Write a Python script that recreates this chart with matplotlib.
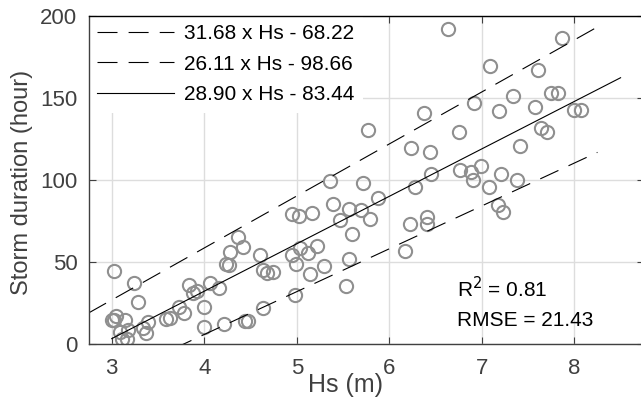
import numpy as np
import matplotlib
matplotlib.use("Agg")
import matplotlib.pyplot as plt

plt.rcParams['font.family'] = ['Liberation Sans', 'DejaVu Sans']

# datos: altura de ola Hs (m) y duracion de tormenta (h)
hs = [3.02, 3.24, 3.28, 3.02, 3.05, 3.00, 3.14, 3.18, 3.09, 3.11, 3.16, 3.34,
      3.37, 3.39, 3.59, 3.63, 3.73, 3.78, 3.83, 3.88, 3.92, 4.00, 4.00, 4.06,
      4.16, 4.21, 4.24, 4.27, 4.28, 4.36, 4.42, 4.60, 4.64, 4.68, 4.74, 4.64,
      4.44, 4.47, 4.98, 4.99, 5.04, 4.95, 5.14, 4.95, 5.02, 5.16, 5.12, 5.22,
      5.29, 5.39, 5.47, 5.56, 5.69, 5.60, 5.56, 5.53, 5.36, 5.72, 5.79, 5.88,
      5.77, 6.17, 6.22, 6.41, 6.41, 6.28, 6.45, 6.23, 6.44, 6.38, 6.63, 6.75,
      6.92, 6.76, 6.88, 6.99, 6.90, 7.08, 7.09, 7.19, 7.21, 7.18, 7.23, 7.34,
      7.38, 7.41, 7.58, 7.61, 7.64, 7.71, 7.75, 7.82, 7.87, 8.00, 8.07]
dur = [44.7, 37.2, 25.4, 14.9, 16.8, 14.6, 14.6, 8.5, 7.5, 3.0, 2.9, 9.6,
       6.5, 13.1, 15.0, 15.7, 22.7, 18.7, 35.9, 30.9, 32.3, 22.4, 10.2, 37.3,
       33.9, 12.2, 48.7, 48.1, 56.2, 65.4, 59.3, 54.2, 45.1, 43.1, 43.7, 21.7,
       14.3, 14.3, 29.9, 48.7, 58.3, 54.2, 42.6, 79.2, 78.0, 79.6, 55.3, 60.0,
       47.5, 85.3, 75.5, 82.1, 81.6, 66.8, 51.8, 35.3, 99.3, 98.1, 76.0, 88.9,
       130.5, 56.7, 73.4, 77.4, 72.8, 95.8, 103.7, 119.4, 116.8, 141.0, 192.1, 129.0,
       147.1, 105.8, 105.0, 108.6, 99.9, 95.6, 169.1, 141.8, 103.6, 84.7, 80.6, 151.1,
       99.7, 120.4, 144.2, 167.2, 131.4, 129.3, 152.7, 152.7, 186.6, 142.7, 142.7]

# rectas de ajuste: pendiente, ordenada
sup = (31.68, -68.22)
inf = (26.11, -98.66)
aju = (28.90, -83.44)
x_banda = np.array([2.75, 8.25])
x_ajuste = np.array([3.0, 8.5])

r2 = 0.81
rmse = 21.43

gris = '#404040'

fig = plt.figure(figsize=(6.41, 3.98), dpi=100)
ax = fig.add_axes([88.6/641, 1-344/398, 555.1/641, 328.3/398])

ax.plot(hs, dur, 'o', mfc='none', mec='#8f8f8f', ms=9.5, mew=1.5, zorder=2)

l1, = ax.plot(x_banda, sup[0]*x_banda + sup[1], color='k', lw=0.8,
              linestyle=(0, (18, 10)), zorder=3)
l2, = ax.plot(x_banda, inf[0]*x_banda + inf[1], color='k', lw=0.8,
              linestyle=(0, (18, 10)), zorder=3)
l3, = ax.plot(x_ajuste, aju[0]*x_ajuste + aju[1], color='k', lw=0.8, zorder=3)

etiquetas = ['%.2f x Hs - %.2f' % (sup[0], -sup[1]),
             '%.2f x Hs - %.2f' % (inf[0], -inf[1]),
             '%.2f x Hs - %.2f' % (aju[0], -aju[1])]
leg = ax.legend([l1, l2, l3], etiquetas, loc='upper left', fontsize=15,
                borderaxespad=0, borderpad=0.4, handlelength=3.7,
                handletextpad=0.5, labelspacing=0.56, frameon=True,
                fancybox=False, framealpha=1, edgecolor='none')
leg.set_zorder(5)

ax.text(6.73, 28.4, 'R$^2$ = %.2f' % r2, fontsize=15, va='baseline')
ax.text(6.73, 11.0, 'RMSE = %.2f' % rmse, fontsize=15, va='baseline')

ax.set_xlim(2.75, 8.75)
ax.set_ylim(0, 200)
ax.set_xticks([3, 4, 5, 6, 7, 8])
ax.set_yticks([0, 50, 100, 150, 200])
ax.grid(True, color='#dddddd', lw=1)
ax.set_axisbelow(True)

ax.tick_params(direction='in', length=5, width=0.8, top=True, right=True,
               color=gris, labelcolor=gris, labelsize=16)
ax.tick_params(axis='x', pad=10)
ax.tick_params(axis='y', pad=8)
for s in ax.spines.values():
    s.set_color(gris)
    s.set_linewidth(1.0)
    s.set_zorder(6)
ax.spines['top'].set_color('k')

ax.set_xlabel('Hs (m)', fontsize=18, color=gris, va='baseline')
ax.xaxis.set_label_coords(0.4637, -0.146)
ax.set_ylabel('Storm duration (hour)', fontsize=17, color=gris)
ax.yaxis.set_label_coords(-0.101, 0.492)

plt.savefig('out.png', dpi=100)
